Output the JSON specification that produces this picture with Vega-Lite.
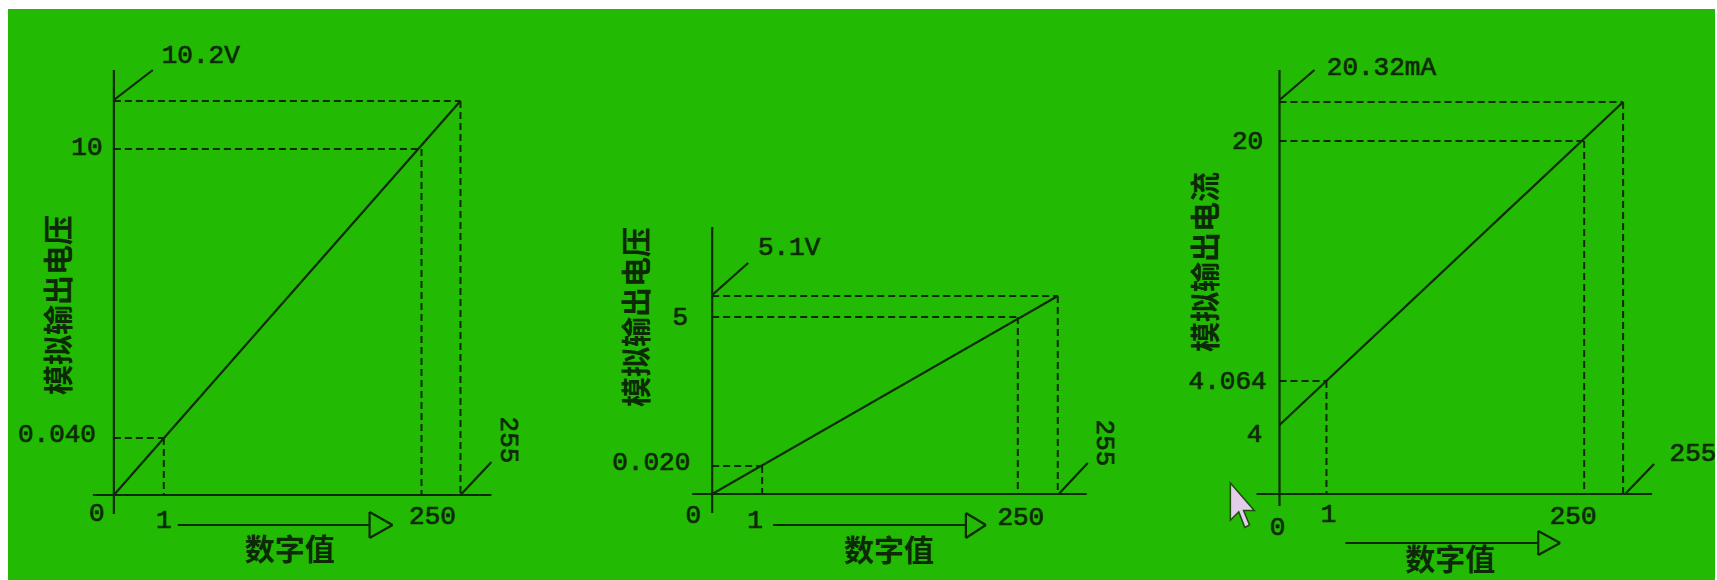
{
  "$schema": "https://vega.github.io/schema/vega-lite/v6.json",
  "width": 1717,
  "height": 580,
  "padding": 0,
  "autosize": {"type": "fit", "contains": "padding"},
  "background": "#ffffff",
  "config": {"view": {"stroke": null}},
  "datasets": {
    "bg": [{"x": 8, "y": 9, "x2": 1717, "y2": 580}],
    "segs": [
      {"panel": 1, "kind": "solid", "x": 114, "y": 70, "x2": 114, "y2": 514},
      {"panel": 1, "kind": "solid", "x": 93, "y": 495, "x2": 492, "y2": 495},
      {"panel": 1, "kind": "solid", "x": 114, "y": 495, "x2": 461, "y2": 101},
      {"panel": 1, "kind": "dash", "x": 114, "y": 101, "x2": 461, "y2": 101},
      {"panel": 1, "kind": "dash", "x": 461, "y": 101, "x2": 461, "y2": 495},
      {"panel": 1, "kind": "dash", "x": 114, "y": 149, "x2": 422, "y2": 149},
      {"panel": 1, "kind": "dash", "x": 422, "y": 149, "x2": 422, "y2": 495},
      {"panel": 1, "kind": "dash", "x": 114, "y": 438, "x2": 164, "y2": 438},
      {"panel": 1, "kind": "dash", "x": 164, "y": 438, "x2": 164, "y2": 495},
      {"panel": 1, "kind": "solid", "x": 114, "y": 100, "x2": 153, "y2": 70},
      {"panel": 1, "kind": "solid", "x": 461, "y": 495, "x2": 492, "y2": 462},
      {"panel": 1, "kind": "solid", "x": 178, "y": 525, "x2": 370, "y2": 525},
      {"panel": 1, "kind": "solid", "x": 370, "y": 512, "x2": 393, "y2": 525},
      {"panel": 1, "kind": "solid", "x": 393, "y": 525, "x2": 370, "y2": 538},
      {"panel": 1, "kind": "solid", "x": 370, "y": 538, "x2": 370, "y2": 512},
      {"panel": 2, "kind": "solid", "x": 713, "y": 227, "x2": 713, "y2": 513},
      {"panel": 2, "kind": "solid", "x": 693, "y": 494, "x2": 1088, "y2": 494},
      {"panel": 2, "kind": "solid", "x": 713, "y": 494, "x2": 1059, "y2": 296},
      {"panel": 2, "kind": "dash", "x": 713, "y": 296, "x2": 1059, "y2": 296},
      {"panel": 2, "kind": "dash", "x": 1059, "y": 296, "x2": 1059, "y2": 494},
      {"panel": 2, "kind": "dash", "x": 713, "y": 317, "x2": 1019, "y2": 317},
      {"panel": 2, "kind": "dash", "x": 1019, "y": 317, "x2": 1019, "y2": 494},
      {"panel": 2, "kind": "dash", "x": 713, "y": 466, "x2": 763, "y2": 466},
      {"panel": 2, "kind": "dash", "x": 763, "y": 466, "x2": 763, "y2": 494},
      {"panel": 2, "kind": "solid", "x": 713, "y": 295, "x2": 749, "y2": 263},
      {"panel": 2, "kind": "solid", "x": 1060, "y": 494, "x2": 1089, "y2": 463},
      {"panel": 2, "kind": "solid", "x": 774, "y": 525, "x2": 967, "y2": 525},
      {"panel": 2, "kind": "solid", "x": 967, "y": 513, "x2": 987, "y2": 525},
      {"panel": 2, "kind": "solid", "x": 987, "y": 525, "x2": 967, "y2": 538},
      {"panel": 2, "kind": "solid", "x": 967, "y": 538, "x2": 967, "y2": 513},
      {"panel": 3, "kind": "solid", "x": 1281, "y": 70, "x2": 1281, "y2": 506},
      {"panel": 3, "kind": "solid", "x": 1258, "y": 494, "x2": 1654, "y2": 494},
      {"panel": 3, "kind": "solid", "x": 1281, "y": 425, "x2": 1625, "y2": 102},
      {"panel": 3, "kind": "dash", "x": 1281, "y": 102, "x2": 1625, "y2": 102},
      {"panel": 3, "kind": "dash", "x": 1625, "y": 102, "x2": 1625, "y2": 494},
      {"panel": 3, "kind": "dash", "x": 1281, "y": 141, "x2": 1586, "y2": 141},
      {"panel": 3, "kind": "dash", "x": 1586, "y": 141, "x2": 1586, "y2": 494},
      {"panel": 3, "kind": "dash", "x": 1281, "y": 381, "x2": 1328, "y2": 381},
      {"panel": 3, "kind": "dash", "x": 1328, "y": 381, "x2": 1328, "y2": 494},
      {"panel": 3, "kind": "solid", "x": 1281, "y": 100, "x2": 1316, "y2": 70},
      {"panel": 3, "kind": "solid", "x": 1627, "y": 494, "x2": 1656, "y2": 464},
      {"panel": 3, "kind": "solid", "x": 1347, "y": 543, "x2": 1540, "y2": 543},
      {"panel": 3, "kind": "solid", "x": 1540, "y": 531, "x2": 1562, "y2": 543},
      {"panel": 3, "kind": "solid", "x": 1562, "y": 543, "x2": 1540, "y2": 555},
      {"panel": 3, "kind": "solid", "x": 1540, "y": 555, "x2": 1540, "y2": 531}
    ],
    "labels": [
      {"panel": 1, "text": "10.2V", "x": 201, "y": 55},
      {"panel": 1, "text": "10", "x": 87, "y": 147},
      {"panel": 1, "text": "0.040", "x": 57, "y": 434},
      {"panel": 1, "text": "0", "x": 97, "y": 513},
      {"panel": 1, "text": "1", "x": 164, "y": 520},
      {"panel": 1, "text": "250", "x": 433, "y": 516},
      {"panel": 2, "text": "5.1V", "x": 790, "y": 247},
      {"panel": 2, "text": "5", "x": 681, "y": 317},
      {"panel": 2, "text": "0.020", "x": 652, "y": 462},
      {"panel": 2, "text": "0", "x": 694, "y": 515},
      {"panel": 2, "text": "1", "x": 756, "y": 520},
      {"panel": 2, "text": "250", "x": 1022, "y": 517},
      {"panel": 3, "text": "20.32mA", "x": 1383, "y": 67},
      {"panel": 3, "text": "20", "x": 1249, "y": 141},
      {"panel": 3, "text": "4.064", "x": 1229, "y": 381},
      {"panel": 3, "text": "4", "x": 1256, "y": 434},
      {"panel": 3, "text": "0", "x": 1279, "y": 527},
      {"panel": 3, "text": "1", "x": 1330, "y": 514},
      {"panel": 3, "text": "250", "x": 1575, "y": 516},
      {"panel": 3, "text": "255", "x": 1695, "y": 453}
    ],
    "rotlabels": [
      {"panel": 1, "text": "255", "x": 510, "y": 440},
      {"panel": 2, "text": "255", "x": 1106, "y": 443}
    ],
    "xtitles": [
      {"panel": 1, "text": "数字值", "x": 290, "y": 551},
      {"panel": 2, "text": "数字值", "x": 890, "y": 552},
      {"panel": 3, "text": "数字值", "x": 1452, "y": 561}
    ],
    "ytitles": [
      {"panel": 1, "text": "模拟输出电压", "x": 60, "y": 305},
      {"panel": 2, "text": "模拟输出电压", "x": 639, "y": 317},
      {"panel": 3, "text": "模拟输出电流", "x": 1208, "y": 262}
    ],
    "cursor": [{"x": 1245, "y": 507}]
  },
  "encoding": {
    "x": {"field": "x", "type": "quantitative", "axis": null, "scale": {"domain": [0, 1717], "nice": false, "zero": false}},
    "y": {"field": "y", "type": "quantitative", "axis": null, "scale": {"domain": [0, 580], "nice": false, "zero": false, "reverse": true}}
  },
  "layer": [
    {
      "data": {"name": "bg"},
      "mark": {"type": "rect", "fill": "#22ba03", "stroke": null},
      "encoding": {"x2": {"field": "x2"}, "y2": {"field": "y2"}}
    },
    {
      "data": {"name": "segs"},
      "transform": [{"filter": "datum.kind === 'solid'"}],
      "mark": {"type": "rule", "color": "#0c2a06", "strokeWidth": 2.2},
      "encoding": {"x2": {"field": "x2"}, "y2": {"field": "y2"}}
    },
    {
      "data": {"name": "segs"},
      "transform": [{"filter": "datum.kind === 'dash'"}],
      "mark": {"type": "rule", "color": "#0c2a06", "strokeWidth": 2, "strokeDash": [7, 4]},
      "encoding": {"x2": {"field": "x2"}, "y2": {"field": "y2"}}
    },
    {
      "data": {"name": "labels"},
      "mark": {"type": "text", "font": "Liberation Mono", "fontSize": 26, "color": "#0c2a06", "stroke": "#0c2a06", "strokeWidth": 0.7, "align": "center", "baseline": "middle"},
      "encoding": {"text": {"field": "text"}}
    },
    {
      "data": {"name": "rotlabels"},
      "mark": {"type": "text", "font": "Liberation Mono", "fontSize": 26, "color": "#0c2a06", "stroke": "#0c2a06", "strokeWidth": 0.7, "align": "center", "baseline": "middle", "angle": 90},
      "encoding": {"text": {"field": "text"}}
    },
    {
      "data": {"name": "xtitles"},
      "mark": {"type": "text", "font": "Noto Sans CJK SC", "fontSize": 30, "fontWeight": "bold", "color": "#0c2a06", "align": "center", "baseline": "middle"},
      "encoding": {"text": {"field": "text"}}
    },
    {
      "data": {"name": "ytitles"},
      "mark": {"type": "text", "font": "Noto Sans CJK SC", "fontSize": 30, "fontWeight": "bold", "color": "#0c2a06", "align": "center", "baseline": "middle", "angle": 270},
      "encoding": {"text": {"field": "text"}}
    },
    {
      "data": {"name": "cursor"},
      "mark": {"type": "point", "filled": true, "fill": "#e2cdea", "stroke": "#1f4a12", "strokeWidth": 1.5, "opacity": 1, "size": 2300, "shape": "M -0.55 -1 L -0.55 0.55 L -0.2 0.2 L 0.05 0.85 L 0.25 0.75 L 0 0.15 L 0.45 0.15 Z"},
      "encoding": {}
    }
  ]
}
